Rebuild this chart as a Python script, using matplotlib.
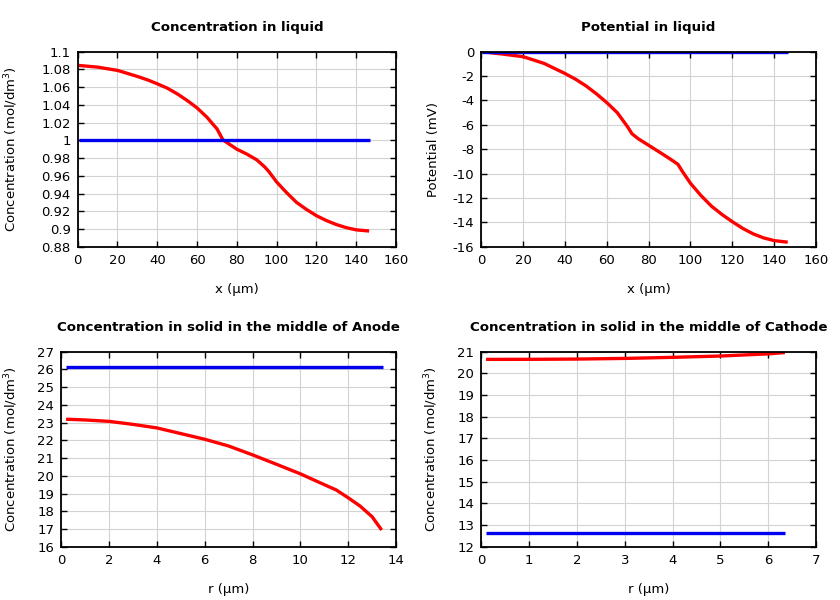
import matplotlib
matplotlib.use("Agg")
import matplotlib.pyplot as plt

plt.rcParams["axes.unicode_minus"] = False

# ---- Data ----
# Concentration in liquid
cl_x = [0.5, 10, 20, 30, 35, 40, 45, 50, 55, 60, 65, 68, 70, 73, 80, 85, 90, 94, 96, 100,
        105, 110, 115, 120, 125, 130, 135, 140, 146.5]
cl_red = [1.0845, 1.0826, 1.0789, 1.0721, 1.0683, 1.0638, 1.0589, 1.0525, 1.045, 1.0366,
          1.026, 1.0181, 1.013, 1.0005, 0.990, 0.9845, 0.978, 0.970, 0.965, 0.953,
          0.941, 0.930, 0.922, 0.915, 0.9095, 0.905, 0.9015, 0.899, 0.8977]
cl_blue_x = [0.5, 146.7]
cl_blue = [1.0, 1.0]

# Potential in liquid
pl_x = [0.3, 10, 20, 30, 40, 45, 50, 55, 60, 65, 70, 72, 75, 80, 85, 90, 94, 96, 100,
        105, 110, 115, 120, 125, 130, 135, 140, 146.5]
pl_red = [0.0, -0.19, -0.41, -0.96, -1.79, -2.25, -2.8, -3.45, -4.18, -5.0, -6.18, -6.73,
          -7.14, -7.68, -8.22, -8.77, -9.24, -9.79, -10.8, -11.8, -12.67, -13.35, -13.95,
          -14.5, -14.95, -15.28, -15.5, -15.63]
pl_blue_x = [0.3, 146.6]
pl_blue = [0.0, 0.0]

# Concentration in solid, Anode
an_r = [0.2, 1, 2, 3, 4, 5, 6, 7, 8, 9, 10, 11, 11.5, 12, 12.5, 13, 13.4]
an_red = [23.19, 23.15, 23.07, 22.9, 22.7, 22.38, 22.06, 21.68, 21.18, 20.65, 20.11,
          19.5, 19.2, 18.76, 18.29, 17.69, 16.94]
an_blue_r = [0.2, 13.45]
an_blue = [26.16, 26.16]

# Concentration in solid, Cathode
ca_r = [0.1, 1, 2, 3, 4, 5, 6, 6.35]
ca_red = [20.646, 20.648, 20.66, 20.69, 20.74, 20.8, 20.9, 20.96]
ca_blue_r = [0.1, 6.35]
ca_blue = [12.63, 12.63]

RED = "#ff0000"
BLUE = "#0000ee"

fig = plt.figure(figsize=(8.4, 6.0), dpi=100)
W, H = 840.0, 600.0


def add(l, r, t, b):
    return fig.add_axes([l / W, 1 - b / H, (r - l) / W, (b - t) / H])


def style(ax, title, xlabel, ylabel, xlim, xticks, ylim, yticks, ylab_px, ax_l, ax_r, yfmt=None):
    ax.set_xlim(*xlim)
    ax.set_ylim(*ylim)
    ax.set_xticks(xticks)
    ax.set_yticks(yticks)
    if yfmt is not None:
        ax.set_yticklabels(yfmt)
    ax.grid(True, color="#d3d3d3", linewidth=0.8)
    ax.set_axisbelow(True)
    ax.tick_params(direction="in", length=4, width=1, top=True, right=True,
                   labelsize=9.5, pad=5)
    for s in ax.spines.values():
        s.set_linewidth(1.3)
    ax.set_title(title, fontsize=9.6, fontweight="bold", pad=15)
    ax.set_xlabel(xlabel, fontsize=9.5, labelpad=12)
    ax.set_ylabel(ylabel, fontsize=9.5)
    ax.yaxis.set_label_coords((ylab_px - ax_l) / (ax_r - ax_l), 0.5)


ax1 = add(77.7, 396, 51.7, 246.7)
ax2 = add(481.3, 816, 51.7, 246.7)
ax3 = add(61.3, 396, 351.7, 546.7)
ax4 = add(481.3, 816, 351.7, 546.7)

lw = 2.4
kw = dict(lw=lw, solid_capstyle="butt", solid_joinstyle="round")

ax1.plot(cl_x, cl_red, color=RED, **kw)
ax1.plot(cl_blue_x, cl_blue, color=BLUE, **kw)
yt1 = [0.88, 0.9, 0.92, 0.94, 0.96, 0.98, 1.0, 1.02, 1.04, 1.06, 1.08, 1.1]
style(ax1, "Concentration in liquid", "x (µm)", "Concentration (mol/dm$^3$)",
      (0, 160), range(0, 161, 20), (0.88, 1.1), yt1, 20, 77.7, 396,
      yfmt=["0.88", "0.9", "0.92", "0.94", "0.96", "0.98", "1", "1.02", "1.04", "1.06", "1.08", "1.1"])

ax2.plot(pl_x, pl_red, color=RED, **kw)
ax2.plot(pl_blue_x, pl_blue, color=BLUE, **kw)
style(ax2, "Potential in liquid", "x (µm)", "Potential (mV)",
      (0, 160), range(0, 161, 20), (-16, 0), range(-16, 1, 2), 440, 481.3, 816)

ax3.plot(an_r, an_red, color=RED, **kw)
ax3.plot(an_blue_r, an_blue, color=BLUE, **kw)
style(ax3, "Concentration in solid in the middle of Anode", "r (µm)", "Concentration (mol/dm$^3$)",
      (0, 14), range(0, 15, 2), (16, 27), range(16, 28, 1), 20, 61.3, 396)

ax4.plot(ca_r, ca_red, color=RED, **kw)
ax4.plot(ca_blue_r, ca_blue, color=BLUE, **kw)
style(ax4, "Concentration in solid in the middle of Cathode", "r (µm)", "Concentration (mol/dm$^3$)",
      (0, 7), range(0, 8, 1), (12, 21), range(12, 22, 1), 440, 481.3, 816)

fig.savefig("out.png", dpi=100)
